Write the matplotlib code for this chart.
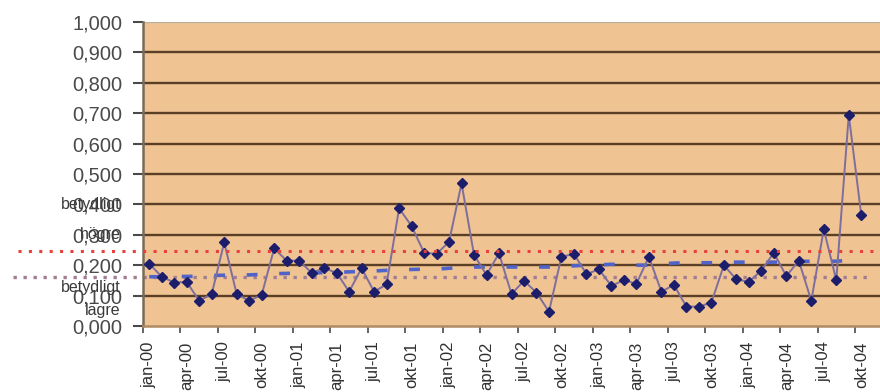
import matplotlib
matplotlib.use("Agg")
import matplotlib.pyplot as plt
import matplotlib.transforms as mtransforms
import numpy as np

plt.rcParams['font.family'] = ['Liberation Sans', 'DejaVu Sans']

# Month categories (Swedish abbreviations), jan-00 .. nov-04
month_names = ["jan", "feb", "mar", "apr", "maj", "jun",
               "jul", "aug", "sep", "okt", "nov", "dec"]
years = ["00", "01", "02", "03", "04"]
months = [f"{m}-{y}" for y in years for m in month_names][:59]

# Monthly observed share
values = [0.205, 0.162, 0.143, 0.145, 0.083, 0.105, 0.275, 0.105, 0.083, 0.102,
          0.255, 0.215, 0.215, 0.175, 0.190, 0.175, 0.113, 0.190, 0.113, 0.137,
          0.387, 0.329, 0.241, 0.237, 0.277, 0.469, 0.234, 0.168, 0.239, 0.105,
          0.149, 0.110, 0.047, 0.228, 0.237, 0.171, 0.186, 0.132, 0.151, 0.139,
          0.228, 0.113, 0.135, 0.064, 0.064, 0.077, 0.200, 0.153, 0.146, 0.182,
          0.241, 0.164, 0.215, 0.083, 0.318, 0.151, 0.694, 0.365]

# Slowly rising average level
trend = [0.162, 0.162, 0.163, 0.163, 0.164, 0.166, 0.167, 0.168, 0.168, 0.170,
         0.172, 0.173, 0.174, 0.174, 0.176, 0.177, 0.178, 0.180, 0.181, 0.183,
         0.186, 0.186, 0.187, 0.187, 0.190, 0.193, 0.194, 0.194, 0.194, 0.194,
         0.194, 0.194, 0.194, 0.196, 0.198, 0.200, 0.201, 0.203, 0.201, 0.200,
         0.200, 0.204, 0.207, 0.208, 0.208, 0.208, 0.209, 0.210, 0.210, 0.210,
         0.210, 0.211, 0.212, 0.213, 0.213, 0.213, 0.216, 0.220]

# Reference limits
upper_limit = 0.247
lower_limit = 0.161
upper_text = ["betydligt", "högre"]
lower_text = ["betydligt", "lägre"]

y_ticks = [0.0, 0.1, 0.2, 0.3, 0.4, 0.5, 0.6, 0.7, 0.8, 0.9, 1.0]

fig = plt.figure(figsize=(8.8, 3.92), dpi=100)
ax = fig.add_axes([143 / 880, 1 - 326 / 392, 1 - 143 / 880, (326 - 22) / 392])
ax.set_facecolor("#f0c393")

x = np.arange(len(values))
ax.set_xlim(-0.5, len(months) - 0.5)
ax.set_ylim(0, 1.0)

# horizontal grid
for v in y_ticks[1:-1]:
    ax.axhline(v, color="#5a3e26", lw=1.7, zorder=1)

# limit lines reaching out over the tick label area
blend = mtransforms.blended_transform_factory(ax.transAxes, ax.transData)
ax.plot([-0.170, 0.993], [upper_limit, upper_limit], transform=blend,
        clip_on=False, color="#e8403a", lw=2.2, linestyle=(0, (1, 2.4)), zorder=5)
ax.plot([-0.176, 0.984], [lower_limit, lower_limit], transform=blend,
        clip_on=False, color="#a27d92", lw=2.4, linestyle=(0, (1, 2.0)), zorder=2)

# average level, dashed
ax.plot(x, trend, color="#4f63c9", lw=2.6, linestyle=(0, (3.0, 6.0)), zorder=3)

# monthly values
ax.plot(x, values, color="#7d6e9c", lw=1.4, marker="D", markersize=5.4,
        markerfacecolor="#1c1d6b", markeredgecolor="#1c1d6b", zorder=4)

# axes styling
for side in ["top", "right"]:
    ax.spines[side].set_visible(False)
ax.axhline(1.0, color="#b9b09c", lw=1.6, zorder=1)
ax.spines["left"].set_color("#7a6a5a")
ax.spines["left"].set_linewidth(1.8)
ax.spines["bottom"].set_color("#b08a62")
ax.spines["bottom"].set_linewidth(1.8)

ax.set_yticks(y_ticks)
ax.set_yticklabels([f"{v:.3f}".replace(".", ",") for v in y_ticks],
                   fontsize=14.5, color="#4a4a4a")
ax.tick_params(axis="y", length=7, width=1.5, color="#4a4a4a", pad=8)

ax.set_xticks(np.arange(-0.5, len(months) - 0.5, 3))
ax.set_xticklabels([])
ax.tick_params(axis="x", length=5, width=1.2, color="#4a4a4a")
ax.set_xticks(np.arange(0, len(months), 3), minor=True)
ax.set_xticklabels(months[::3], minor=True, rotation=90, fontsize=12,
                   color="#303030", va="top", ha="center")
ax.tick_params(axis="x", which="minor", length=0, pad=11)

# limit labels beside the value axis
txt_kw = dict(transform=blend, ha="right", va="center", fontsize=11.5,
              color="#3a3a3a", clip_on=False)
ax.text(-0.03, 0.400, upper_text[0], **txt_kw)
ax.text(-0.03, 0.302, upper_text[1], **txt_kw)
ax.text(-0.03, 0.128, lower_text[0], **txt_kw)
ax.text(-0.03, 0.052, lower_text[1], **txt_kw)

fig.savefig("out.png", dpi=100)
